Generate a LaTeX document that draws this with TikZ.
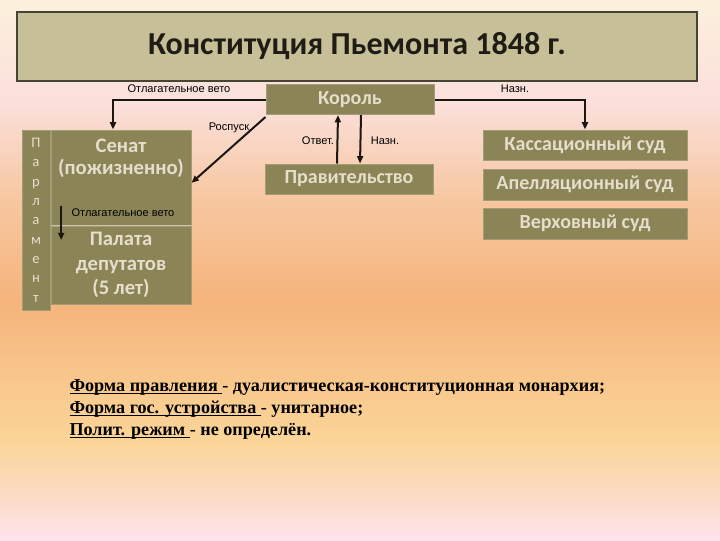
\documentclass[tikz,border=0pt]{standalone}
\usepackage{fontspec}
\setmainfont{Carlito}
\newfontfamily\notefont{Liberation Serif}
\newfontfamily\labelfont{Liberation Sans}
\usetikzlibrary{arrows.meta}

\newcommand\ulpart[1]{\underline{\smash{#1}}}

\definecolor{boxfill}{HTML}{8B8456}
\definecolor{boxtext}{HTML}{E6DDCB}
\definecolor{titlefill}{HTML}{C7BF97}
\definecolor{linecol}{HTML}{1C1610}
\definecolor{bgA}{RGB}{253,228,238}
\definecolor{bgB}{RGB}{252,220,200}
\definecolor{bgC}{RGB}{251,213,152}
\definecolor{bgD}{RGB}{245,180,124}
\definecolor{bgE}{RGB}{247,199,160}
\definecolor{bgF}{RGB}{251,224,220}
\definecolor{bgG}{RGB}{252,240,220}
\pgfdeclareverticalshading{bgshade}{100bp}{color(0bp)=(bgA); color(25bp)=(bgA);
  color(28.7bp)=(bgB); color(34.3bp)=(bgC); color(47.2bp)=(bgD);
  color(56.5bp)=(bgE); color(65.7bp)=(bgF); color(75bp)=(bgG); color(100bp)=(bgG)}

\tikzset{every picture/.style={line width=0.75pt}}
\tikzset{
  olive/.style={fill=boxfill, draw=boxfill!80!white, text=boxtext, inner sep=0pt,
    font=\fontsize{15}{18}\selectfont\bfseries},
  note/.style={inner sep=0.75pt, text=black, font=\labelfont\fontsize{8.3}{10}\selectfont},
  arr/.style={line width=1.5pt, draw=linecol, -{Triangle[length=5.5pt,width=4.5pt]}}
}

\begin{document}
\begin{tikzpicture}[x=0.75pt,y=0.75pt,yscale=-1,xscale=1]
%Background
\useasboundingbox (0,0) rectangle (720,540);
\path [shading=bgshade] (0,0) rectangle (720,540);

%Title
\node [fill=titlefill, draw={rgb, 255:red, 70; green, 68; blue, 52}, line width=1pt, minimum width=510pt, minimum height=51.75pt, inner sep=0pt,
  text={rgb, 255:red, 30; green, 28; blue, 20}, font=\fontsize{24}{28}\selectfont\bfseries] (title) at (357,46.5) {Конституция Пьемонта 1848 г.};

%Boxes
\node [olive, minimum width=126pt, minimum height=22.5pt] (king) at (350,99.5) {Король};
\node [olive, minimum width=126pt, minimum height=22.5pt] (gov) at (349,179) {Правительство};
\node [olive, minimum width=153pt, minimum height=22.5pt] (cass) at (585,145) {Кассационный суд};
\node [olive, minimum width=153pt, minimum height=23.25pt] (appel) at (585,184.5) {Апелляционный суд};
\node [olive, minimum width=153pt, minimum height=23.25pt] (supreme) at (585,223.5) {Верховный суд};

%Parliament
\node [olive, minimum width=21pt, minimum height=135pt, align=center,
  font=\fontsize{11}{14.5}\selectfont] (parl) at (36,220) {П\\а\\р\\л\\а\\м\\е\\н\\т};
\node [olive, minimum width=105pt, minimum height=71.25pt] (senat) at (121,177.5) {};
\node [olive, minimum width=105pt, minimum height=58.5pt, align=center,
  font=\fontsize{15.5}{18.5}\selectfont\bfseries] (deputies) at (121,265) {Палата\\депутатов\\(5 лет)};
\draw [boxtext!70!boxfill, line width=0.6pt] (senat.south west) -- (senat.south east);
% Text Node
\node [align=center, text=boxtext, inner sep=0pt, font=\fontsize{15.5}{16.5}\selectfont\bfseries] (senatT) at (121,158) {Сенат\\(пожизненно)};

%Connectors
\draw [arr] (king.west) -| ([xshift=-6pt]senat.north);
\draw [arr] (king.east) -| (cass.north);
\draw [arr] ([yshift=1.5pt]king.south west) -- ([yshift=4pt]senat.east);
\draw [arr] ([xshift=-9pt]gov.north) -- ([xshift=-9pt]king.south);
\draw [arr] ([xshift=8.25pt]king.south) -- ([xshift=8.25pt]gov.north);
\draw [arr] ([xshift=8pt,yshift=-15pt]senat.south west) -- ([xshift=8pt,yshift=11pt]senat.south west);

% Text Node
\node [note] (vetoTop) at (179,89) {Отлагательное вето};
% Text Node
\node [note] (appoint) at (515,89) {Назн.};
% Text Node
\node [note] (dissolve) at (229,128) {Роспуск};
% Text Node
\node [note] (resp) at (318,141) {Ответ.};
% Text Node
\node [note] (appointGov) at (385,141) {Назн.};
% Text Node
\node [note] (vetoLow) at (123,213) {Отлагательное вето};

% Text Node
\node [anchor=north west, inner sep=0pt, align=left, font=\notefont\bfseries\fontsize{13.6}{16.8}\selectfont] (summary) at (69,382)
  {\ulpart{Форма правления }- дуалистическая-конституционная монархия;\\
   \ulpart{Форма гос. устройства }- унитарное;\\
   \ulpart{Полит. режим }- не определён.};

\end{tikzpicture}
\end{document}
